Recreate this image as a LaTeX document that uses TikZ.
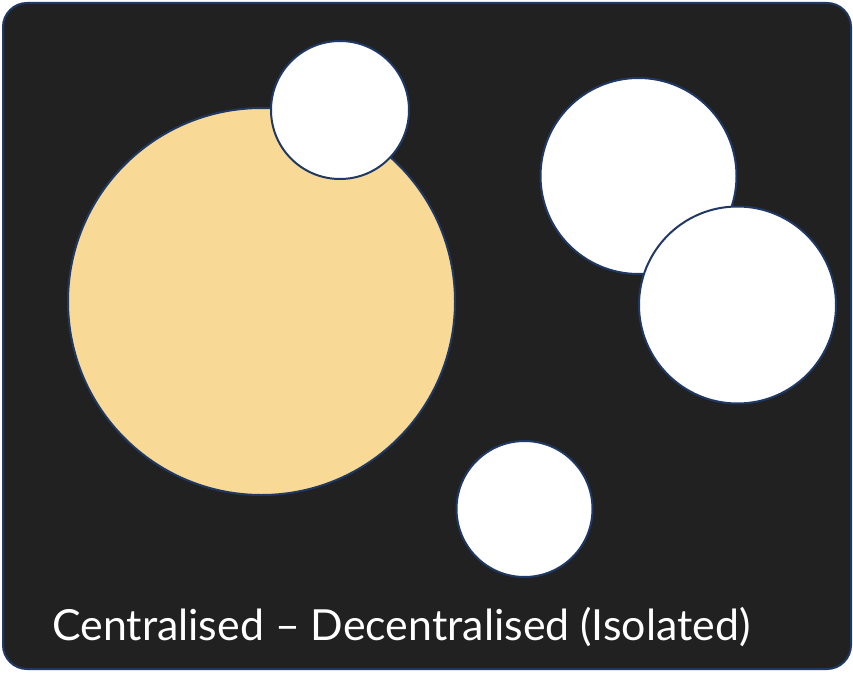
\documentclass[tikz,border=0pt]{standalone}
\usepackage{fontspec}
\setmainfont{Lato}
\definecolor{bgdark}{HTML}{212121}
\definecolor{navy}{HTML}{1F3864}
\definecolor{sand}{HTML}{F8D995}
\begin{document}
\begin{tikzpicture}[x=1bp,y=-1bp,
  blob/.style={circle,draw=navy,line width=2bp,inner sep=0pt,fill=white},
  panel/.style={draw=navy,line width=2bp,fill=bgdark,rounded corners=24bp}]
\useasboundingbox (0,0) rectangle (853,674);
\draw[panel] (3,3) rectangle (851,669);
\node[blob,fill=sand,minimum size=387bp] (central) at (261.5,301.5) {};
\node[blob,minimum size=138bp] (top) at (340,110) {};
\node[blob,minimum size=196bp] (rightup) at (638.5,176) {};
\node[blob,minimum size=197bp] (rightdown) at (737.5,305) {};
\node[blob,minimum size=136bp] (bottom) at (524.5,509) {};
\node[anchor=base west,text=white,font=\fontsize{43}{50}\selectfont,inner sep=0pt] (label) at (52,640) {Centralised – Decentralised (Isolated)};
\end{tikzpicture}
\end{document}
